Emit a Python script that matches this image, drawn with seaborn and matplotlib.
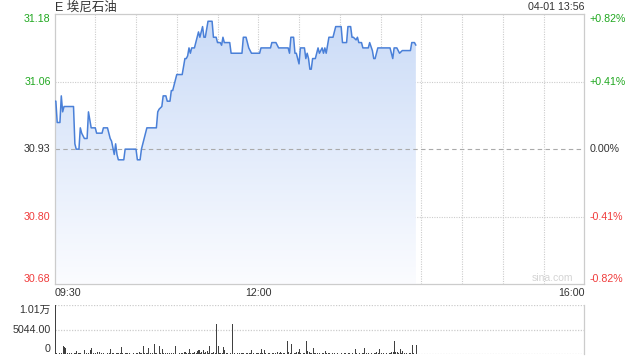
import numpy as np
import pandas as pd
import matplotlib
matplotlib.use("Agg")
import matplotlib.pyplot as plt
import seaborn as sns
from matplotlib.colors import LinearSegmentedColormap

# ---------------- data ----------------
stock_title = "E 埃尼石油"
stamp = "04-01 13:56"
base_price = 30.93          # previous close
pct_range = 0.0082          # +/- 0.82 %
time_labels = ["09:30", "12:00", "16:00"]
time_label_minutes = [0, 150, 390]
session_minutes = 390

# price polyline vertices (minutes after 09:30, price)
price_minutes = [0, 1, 2, 4, 5, 6, 7, 14, 15, 16, 18, 19, 20, 22, 24, 25, 27, 30, 31, 35,
                 36, 39, 40, 41, 42, 44, 45, 46, 47, 51, 52, 60, 61, 63, 64, 66, 68, 75, 76, 77,
                 79, 80, 82, 83, 85, 86, 87, 89, 90, 94, 96, 97, 98, 99, 100, 101, 103, 105, 106, 107,
                 109, 110, 111, 113, 116, 117, 119, 120, 122, 123, 124, 125, 129, 130, 138, 139, 141, 142, 143, 145,
                 151, 152, 159, 160, 163, 165, 172, 173, 174, 176, 177, 178, 179, 180, 181, 184, 185, 186, 187, 188,
                 189, 190, 192, 194, 195, 196, 197, 198, 199, 200, 202, 205, 207, 211, 212, 215, 216, 218, 219, 220,
                 222, 223, 224, 226, 227, 231, 232, 234, 235, 236, 238, 247, 249, 250, 252, 254, 256, 262, 263, 265,
                 266]
price_values = [31.02, 31.02, 30.98, 30.98, 31.03, 31.00, 31.01, 31.01, 30.94, 30.93, 30.93, 30.97, 30.96, 30.95, 30.95, 31.00, 30.97, 30.97, 30.96, 30.96,
                30.97, 30.97, 30.96, 30.95, 30.945, 30.92, 30.94, 30.92, 30.91, 30.91, 30.93, 30.93, 30.91, 30.91, 30.93, 30.95, 30.97, 30.97, 31.00, 31.005,
                31.01, 31.03, 31.03, 31.02, 31.02, 31.04, 31.04, 31.06, 31.07, 31.07, 31.10, 31.10, 31.105, 31.12, 31.11, 31.12, 31.12, 31.14, 31.15, 31.14,
                31.16, 31.14, 31.14, 31.17, 31.17, 31.14, 31.14, 31.13, 31.13, 31.125, 31.14, 31.13, 31.13, 31.11, 31.11, 31.14, 31.14, 31.13, 31.12, 31.11,
                31.11, 31.12, 31.12, 31.13, 31.13, 31.12, 31.12, 31.11, 31.14, 31.14, 31.11, 31.11, 31.10, 31.09, 31.12, 31.12, 31.10, 31.11, 31.10, 31.08,
                31.08, 31.10, 31.10, 31.12, 31.11, 31.115, 31.12, 31.11, 31.12, 31.11, 31.14, 31.14, 31.16, 31.16, 31.13, 31.13, 31.16, 31.16, 31.14, 31.14,
                31.135, 31.14, 31.13, 31.13, 31.12, 31.12, 31.13, 31.115, 31.10, 31.10, 31.12, 31.12, 31.10, 31.12, 31.12, 31.11, 31.115, 31.115, 31.13, 31.13,
                31.125]

# volume per minute (minute 0 .. 266)
volumes = [10088, 250, 150, 200, 150, 300, 1700, 1560, 1220, 200, 150, 250, 200, 150, 300, 250, 680, 340, 200, 340,
           150, 100, 880, 200, 150, 340, 880, 1220, 200, 150, 250, 550, 150, 550, 200, 150, 200, 150, 100, 200,
           300, 1090, 340, 200, 150, 250, 200, 300, 200, 1430, 200, 150, 250, 200, 150, 200, 100, 150, 200, 150,
           200, 250, 400, 200, 250, 1700, 340, 200, 250, 1220, 200, 150, 250, 2100, 200, 250, 150, 1700, 300, 1020,
           250, 200, 150, 340, 200, 150, 340, 200, 150, 1700, 100, 150, 200, 300, 200, 400, 550, 200, 300, 1020,
           200, 340, 200, 400, 300, 680, 880, 300, 550, 880, 300, 550, 680, 300, 1700, 200, 300, 550, 300, 6190,
           1700, 300, 340, 200, 1430, 880, 340, 200, 150, 200, 150, 6190, 200, 150, 200, 150, 200, 250, 200, 300,
           150, 200, 340, 200, 300, 880, 200, 150, 200, 250, 200, 300, 1090, 200, 880, 200, 150, 200, 250, 150,
           300, 200, 340, 150, 400, 200, 550, 200, 340, 200, 150, 2720, 400, 200, 2100, 150, 200, 300, 400, 550,
           1090, 200, 150, 300, 200, 2720, 680, 550, 200, 300, 1360, 200, 300, 200, 150, 200, 150, 200, 250, 680,
           200, 300, 200, 150, 200, 150, 200, 150, 200, 100, 150, 200, 150, 300, 200, 150, 300, 200, 150, 200,
           150, 1090, 200, 150, 200, 150, 200, 300, 1360, 200, 150, 200, 150, 200, 150, 300, 200, 550, 300, 1090,
           200, 150, 200, 150, 200, 150, 200, 300, 400, 550, 2720, 550, 400, 300, 1020, 300, 680, 200, 150, 200,
           150, 200, 300, 1900, 200, 150, 1900]
volume_labels = ["0", "5044.00", "1.01万"]

# ---------------- style ----------------
sns.set_theme(style="white")
plt.rcParams["font.family"] = ["Liberation Sans", "Noto Sans CJK SC", "DejaVu Sans"]

LINE = "#4a80d8"
GREEN = "#20a820"
RED = "#f03c3c"
DARK = "#333333"
GRID = "#cccccc"

W, H = 640, 360
fig = plt.figure(figsize=(6.4, 3.6), dpi=100)
L, R = 54.5, 584.3
ax = fig.add_axes([L / W, 1 - 284.3 / H, (R - L) / W, (284.3 - 14) / H])
axv = fig.add_axes([L / W, 1 - 354.3 / H, (R - L) / W, (354.3 - 305) / H])

ymin = base_price * (1 - pct_range)
ymax = base_price * (1 + pct_range)

df = pd.DataFrame({"minute": price_minutes, "price": price_values})
sns.lineplot(data=df, x="minute", y="price", ax=ax, color=LINE, linewidth=1.1, zorder=4)

# gradient area under the line
poly = ax.fill_between(df["minute"], df["price"], ymin, facecolor="none", edgecolor="none")
grad = np.linspace(0, 1, 256).reshape(-1, 1)
cmap = LinearSegmentedColormap.from_list("g", ["#fbfcff", "#cadbf7"])
im = ax.imshow(grad, extent=[0, session_minutes, ymin, ymax], origin="lower",
               aspect="auto", cmap=cmap, zorder=1, interpolation="bilinear")
im.set_clip_path(poly.get_paths()[0], transform=ax.transData)

ax.set_xlim(0, session_minutes)
ax.set_ylim(ymin, ymax)
ax.set_xlabel("")
ax.set_ylabel("")
ax.grid(False)

# grid
for m in range(30, session_minutes, 30):
    ax.axvline(m, color=GRID, lw=0.8, ls=(0, (1, 1.2)), zorder=0.5)
for k in (-1, 1):
    ax.axhline(base_price * (1 + k * pct_range / 2), color=GRID, lw=0.8, ls=(0, (1, 1.2)), zorder=0.5)
ax.axhline(base_price, color="#aaaaaa", lw=0.8, ls=(0, (4, 3)), zorder=2)

for s in ax.spines.values():
    s.set_color(GRID)
    s.set_linewidth(0.9)

# y ticks left
ks = [2, 1, 0, -1, -2]
levels = [base_price * (1 + k * pct_range / 2) for k in ks]
colors = [GREEN, GREEN, DARK, RED, RED]
vas = ["top", "center", "center", "center", "bottom"]
ax.set_yticks(levels, [f"{v:.2f}" for v in levels])
ax.tick_params(axis="y", length=0, pad=2.7, labelsize=7.7)
for lab, c, va in zip(ax.get_yticklabels(), colors, vas):
    lab.set_color(c)
    lab.set_va(va)

axr = ax.twinx()
axr.set_ylim(ymin, ymax)
pct_labels = [("+" if k > 0 else "") + f"{k * pct_range / 2 * 100:.2f}%" for k in ks]
pct_labels = [p.replace("-0.00", "0.00") for p in pct_labels]
axr.set_yticks(levels, pct_labels)
axr.tick_params(axis="y", length=0, pad=3.6, labelsize=7.7)
for lab, c, va in zip(axr.get_yticklabels(), colors, vas):
    lab.set_color(c)
    lab.set_va(va)
for s in axr.spines.values():
    s.set_visible(False)
axr.grid(False)

# x ticks
ax.set_xticks(time_label_minutes, time_labels)
ax.tick_params(axis="x", length=0, pad=2.5, labelsize=7.7, labelcolor=DARK)
for lab, ha in zip(ax.get_xticklabels(), ["left", "center", "right"]):
    lab.set_ha(ha)

ax.text(0.979, 0.006, "sina.com", transform=ax.transAxes, ha="right", va="bottom",
        fontsize=7.5, color="#d4d4d4")

# volume panel
vol_minutes = list(range(len(volumes)))
axv.bar(vol_minutes, volumes, width=0.75, align="edge", color="#404040", linewidth=0)
vmax = max(volumes)
axv.set_xlim(0, session_minutes)
axv.set_ylim(0, vmax)
axv.grid(False)
for v in (0, vmax / 2, vmax):
    axv.axhline(v, color=GRID, lw=0.9, ls=(0, (1, 1.2)), zorder=0.5)
for name, s in axv.spines.items():
    s.set_visible(name == "right")
    s.set_color(GRID)
    s.set_linewidth(0.9)
axv.set_xticks([])
axv.set_yticks([0, vmax / 2, vmax], volume_labels)
axv.tick_params(axis="y", length=0, pad=3, labelsize=7.7, labelcolor=DARK)
for lab, va in zip(axv.get_yticklabels(), ["bottom", "center", "top"]):
    lab.set_va(va)

fig.text(55 / W, 1 - 7.5 / H, stock_title, ha="left", va="center", fontsize=9, color=DARK)
fig.text(R / W, 1 - 7.5 / H, stamp, ha="right", va="center", fontsize=7.7, color=DARK)

fig.savefig("out.png", dpi=100, facecolor="white")
